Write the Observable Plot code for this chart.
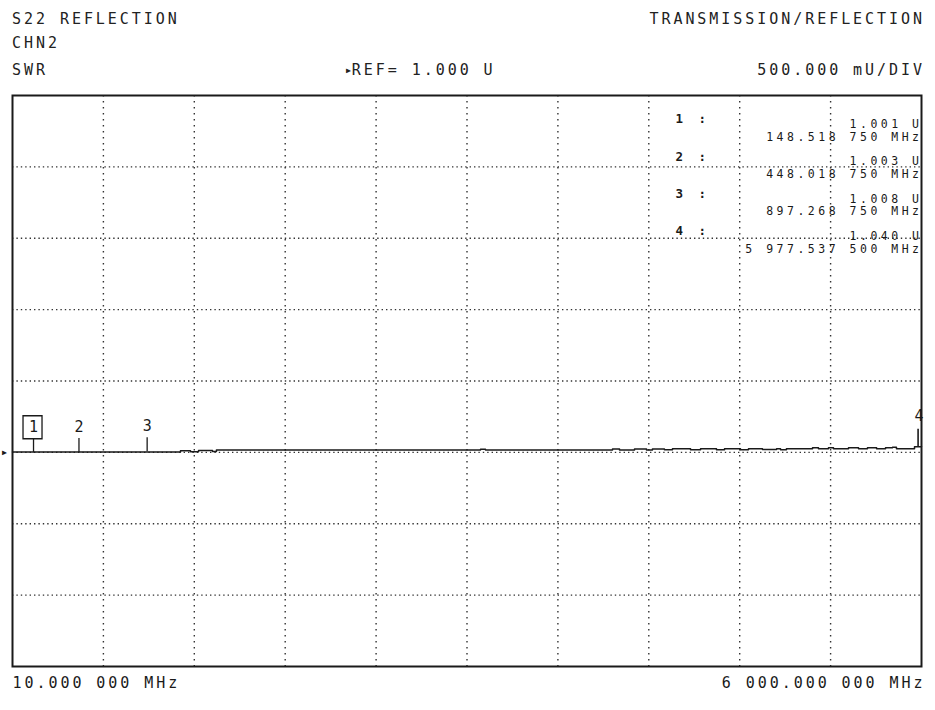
<!DOCTYPE html>
<html>
<head>
<meta charset="utf-8">
<script src="https://cdn.jsdelivr.net/npm/d3@7"></script>
<script src="https://cdn.jsdelivr.net/npm/@observablehq/plot@0.6"></script>
<style>
  body { margin: 0; background: #fff; }
  #page { position: relative; width: 935px; height: 710px; overflow: hidden; }
  .hdr {
    position: absolute;
    font-family: "DejaVu Sans Mono", monospace;
    font-size: 15px;
    letter-spacing: 2.95px;
    line-height: 15px;
    color: #222;
    white-space: pre;
  }
  .hdr .arrow { font-size: 8px; letter-spacing: 1px; vertical-align: 2px; }
  #chart { position: absolute; left: 0; top: 88px; }
</style>
</head>
<body>
<div id="page">
  <div class="hdr" style="left:12px; top:12px">S22 REFLECTION</div>
  <div class="hdr" style="right:10px; top:12px">TRANSMISSION/REFLECTION</div>
  <div class="hdr" style="left:12px; top:36px">CHN2</div>
  <div class="hdr" style="left:12px; top:63px">SWR</div>
  <div class="hdr" style="left:346px; top:63px"><span class="arrow">▶</span>REF= 1.000 U</div>
  <div class="hdr" style="right:10px; top:63px">500.000 mU/DIV</div>
  <div id="chart"></div>
</div>
<script>
// sweep + scale settings
const startMHz = 10;
const stopMHz = 6000;
const refValue = 1.0;
const perDiv = 0.5;     // 500 mU/DIV
const refDiv = 3;       // ref line sits 3 divisions up from the bottom
const nDivX = 10;
const nDivY = 8;

// trace (MHz, SWR)
const traceMHz = [10, 1117, 1183, 1236, 1328, 1354, 3094, 3127, 3964, 4010,
  4109, 4188, 4227, 4306, 4359, 4478, 4544, 4649, 4702, 4807,
  4860, 4952, 5045, 5071, 5110, 5282, 5321, 5387, 5420, 5519,
  5585, 5644, 5704, 5763, 5809, 5835, 5954, 6000];
const traceSWR = [1.003, 1.012, 1.004, 1.014, 1.006, 1.016, 1.022, 1.016, 1.023, 1.016,
  1.024, 1.017, 1.024, 1.018, 1.025, 1.018, 1.025, 1.018, 1.025, 1.018,
  1.025, 1.020, 1.026, 1.019, 1.026, 1.033, 1.026, 1.033, 1.026, 1.033,
  1.026, 1.033, 1.026, 1.033, 1.036, 1.026, 1.040, 1.040];

// markers
const markerIds = ["1", "2", "3", "4"];
const markerMHz = [148.51875, 448.01875, 897.26875, 5977.5375];
const markerSWR = [1.001, 1.003, 1.008, 1.040];
const markerValueText = ["1.001 U", "1.003 U", "1.008 U", "1.040 U"];
const markerFreqText = ["148.518 750 MHz", "448.018 750 MHz", "897.268 750 MHz", "5 977.537 500 MHz"];

const startLabel = "10.000 000 MHz";
const stopLabel = "6 000.000 000 MHz";

const trace = traceMHz.map((f, i) => ({f, swr: traceSWR[i]}));
const markers = markerIds.map((id, i) => ({id, f: markerMHz[i], swr: markerSWR[i]}));

const xGrid = d3.range(1, nDivX).map(k => startMHz + k * (stopMHz - startMHz) / nDivX);
const yBottom = refValue - refDiv * perDiv;
const yGrid = d3.range(1, nDivY).map(k => yBottom + k * perDiv);

const ink = "#1a1a1a";
const tick = len => ({draw(ctx) { ctx.moveTo(0, 0); ctx.lineTo(0, -len); }});
const box = {draw(ctx) { ctx.rect(-9.5, -11.5, 19, 23); }};

// marker readout block, top right inside the graticule
const readout = [];
markers.forEach((m, i) => {
  const top = 19 + i * 37.3;
  readout.push(
    Plot.text([m.id + " :"], {frameAnchor: "top-right", dx: -246, dy: top, textAnchor: "start",
      fontWeight: "bold", fontSize: 12.5, fill: ink}),
    Plot.text([markerValueText[i]], {frameAnchor: "top-right", dx: 1, dy: top + 5.5, textAnchor: "end",
      fontSize: 11.5, fill: ink}),
    Plot.text([markerFreqText[i]], {frameAnchor: "top-right", dx: 1, dy: top + 18, textAnchor: "end",
      fontSize: 11.5, fill: ink})
  );
});

const chart = Plot.plot({
  width: 935,
  height: 622,
  marginLeft: 12,
  marginRight: 14,
  marginTop: 7,
  marginBottom: 44,
  style: {fontFamily: "DejaVu Sans Mono, monospace", background: "white", overflow: "visible"},
  x: {domain: [startMHz, stopMHz], axis: null},
  y: {domain: [yBottom, yBottom + nDivY * perDiv], axis: null},
  marks: [
    Plot.ruleX(xGrid, {stroke: "#333", strokeWidth: 1.4, strokeDasharray: "1.4,4.6"}),
    Plot.ruleY(yGrid, {stroke: "#333", strokeWidth: 1.4, strokeDasharray: "1.4,3"}),
    Plot.line(trace, {x: "f", y: "swr", curve: "step-after", stroke: ink, strokeWidth: 1.5}),
    // marker ticks + labels
    Plot.dot(markers.slice(0, 3), {x: "f", y: "swr", symbol: tick(14), stroke: ink, strokeWidth: 1.3, fill: "none"}),
    Plot.dot(markers.slice(3), {x: "f", y: "swr", symbol: tick(18), stroke: ink, strokeWidth: 1.6, fill: "none"}),
    Plot.text(markers.slice(0, 3), {x: "f", y: "swr", text: "id", dy: -25, fontSize: 15, fill: ink}),
    Plot.text(markers.slice(3), {x: "f", y: "swr", text: "id", dy: -30, dx: 1, fontSize: 15, fill: ink}),
    Plot.dot(markers.slice(0, 1), {x: "f", y: "swr", dy: -25, dx: -1, symbol: box, stroke: ink, strokeWidth: 1.3, fill: "none"}),
    // reference pointer
    Plot.text([refValue], {x: () => startMHz, y: d => d, text: () => "▶", dx: -8, fontSize: 8, fill: ink}),
    ...readout,
    Plot.frame({stroke: ink, strokeWidth: 2}),
    // start / stop
    Plot.text([startMHz], {x: d => d, frameAnchor: "bottom", dy: 21, text: () => startLabel,
      textAnchor: "start", fontSize: 15, fill: ink}),
    Plot.text([stopMHz], {x: d => d, frameAnchor: "bottom", dy: 21, dx: 4, text: () => stopLabel,
      textAnchor: "end", fontSize: 15, fill: ink})
  ]
});

// Plot has no letter-spacing option, so widen the rendered texts by content
const wide = new Set([...markerValueText, ...markerFreqText]);
const ids = new Set(markerIds.map(id => id + " :"));
const sweep = new Set([startLabel, stopLabel]);
d3.select(chart).selectAll("text").each(function () {
  const t = this.textContent;
  if (wide.has(t)) this.style.letterSpacing = "3.5px";
  else if (ids.has(t)) this.style.letterSpacing = "4px";
  else if (sweep.has(t)) this.style.letterSpacing = "2.95px";
});

document.getElementById("chart").append(chart);
</script>
</body>
</html>
